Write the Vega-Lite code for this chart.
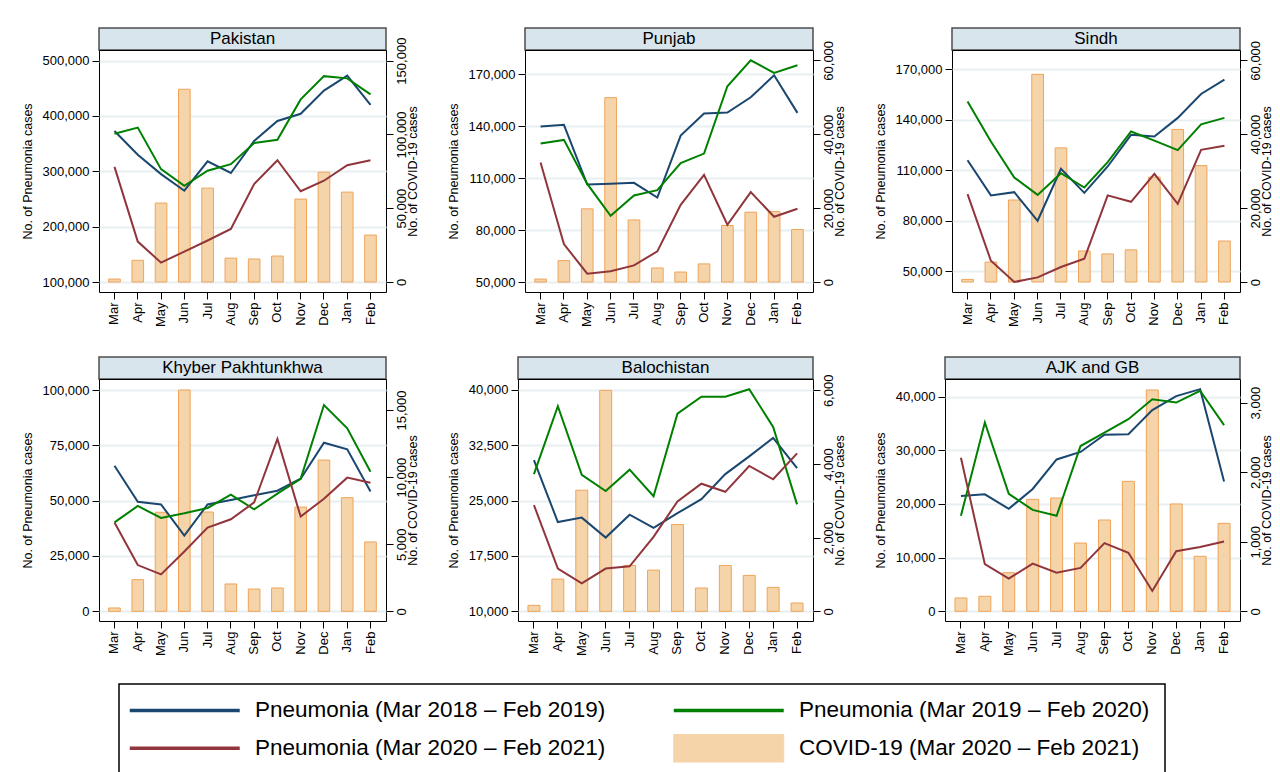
{
  "$schema": "https://vega.github.io/schema/vega-lite/v6.json",
  "padding": {"left": 20, "top": 27, "right": 0, "bottom": 0},
  "background": "white",
  "datasets": {
    "d": [
      {"region":"Pakistan","month":"Mar","p2018":373000,"p2019":368000,"p2020":308000,"covid":2000},
      {"region":"Pakistan","month":"Apr","p2018":330000,"p2019":379000,"p2020":173000,"covid":14700},
      {"region":"Pakistan","month":"May","p2018":295000,"p2019":304000,"p2020":135000,"covid":53500},
      {"region":"Pakistan","month":"Jun","p2018":265000,"p2019":274000,"p2020":155000,"covid":130600},
      {"region":"Pakistan","month":"Jul","p2018":318000,"p2019":301000,"p2020":175000,"covid":63600},
      {"region":"Pakistan","month":"Aug","p2018":297000,"p2019":313000,"p2020":196000,"covid":16200},
      {"region":"Pakistan","month":"Sep","p2018":355000,"p2019":351000,"p2020":277000,"covid":15600},
      {"region":"Pakistan","month":"Oct","p2018":391000,"p2019":357000,"p2020":320000,"covid":17600},
      {"region":"Pakistan","month":"Nov","p2018":404000,"p2019":430000,"p2020":264000,"covid":56200},
      {"region":"Pakistan","month":"Dec","p2018":446000,"p2019":472000,"p2020":283000,"covid":74400},
      {"region":"Pakistan","month":"Jan","p2018":473000,"p2019":468000,"p2020":311000,"covid":60900},
      {"region":"Pakistan","month":"Feb","p2018":420000,"p2019":439000,"p2020":320000,"covid":31800},
      {"region":"Punjab","month":"Mar","p2018":139800,"p2019":130000,"p2020":119000,"covid":800},
      {"region":"Punjab","month":"Apr","p2018":140800,"p2019":132100,"p2020":71900,"covid":5800},
      {"region":"Punjab","month":"May","p2018":106300,"p2019":106700,"p2020":54800,"covid":19800},
      {"region":"Punjab","month":"Jun","p2018":106700,"p2019":88300,"p2020":56200,"covid":49900},
      {"region":"Punjab","month":"Jul","p2018":107300,"p2019":100000,"p2020":59600,"covid":16800},
      {"region":"Punjab","month":"Aug","p2018":98800,"p2019":103100,"p2020":67700,"covid":3800},
      {"region":"Punjab","month":"Sep","p2018":134600,"p2019":118700,"p2020":94600,"covid":2700},
      {"region":"Punjab","month":"Oct","p2018":147300,"p2019":124200,"p2020":111900,"covid":4900},
      {"region":"Punjab","month":"Nov","p2018":147900,"p2019":163100,"p2020":83100,"covid":15300},
      {"region":"Punjab","month":"Dec","p2018":156700,"p2019":178100,"p2020":101900,"covid":18900},
      {"region":"Punjab","month":"Jan","p2018":169400,"p2019":170800,"p2020":87700,"covid":19100},
      {"region":"Punjab","month":"Feb","p2018":147700,"p2019":175200,"p2020":92300,"covid":14200},
      {"region":"Sindh","month":"Mar","p2018":115900,"p2019":150800,"p2020":95700,"covid":700},
      {"region":"Sindh","month":"Apr","p2018":95000,"p2019":127000,"p2020":56100,"covid":5400},
      {"region":"Sindh","month":"May","p2018":96900,"p2019":105600,"p2020":43500,"covid":22200},
      {"region":"Sindh","month":"Jun","p2018":79900,"p2019":95300,"p2020":46200,"covid":56200},
      {"region":"Sindh","month":"Jul","p2018":110800,"p2019":108200,"p2020":52400,"covid":36300},
      {"region":"Sindh","month":"Aug","p2018":96500,"p2019":99700,"p2020":57300,"covid":8400},
      {"region":"Sindh","month":"Sep","p2018":112200,"p2019":114800,"p2020":95000,"covid":7600},
      {"region":"Sindh","month":"Oct","p2018":131000,"p2019":133000,"p2020":91200,"covid":8700},
      {"region":"Sindh","month":"Nov","p2018":130000,"p2019":127600,"p2020":107800,"covid":28400},
      {"region":"Sindh","month":"Dec","p2018":141100,"p2019":121900,"p2020":90000,"covid":41300},
      {"region":"Sindh","month":"Jan","p2018":155300,"p2019":137300,"p2020":122100,"covid":31500},
      {"region":"Sindh","month":"Feb","p2018":163900,"p2019":141100,"p2020":124500,"covid":11100},
      {"region":"Khyber Pakhtunkhwa","month":"Mar","p2018":65800,"p2019":40200,"p2020":40100,"covid":250},
      {"region":"Khyber Pakhtunkhwa","month":"Apr","p2018":49500,"p2019":47600,"p2020":20900,"covid":2360},
      {"region":"Khyber Pakhtunkhwa","month":"May","p2018":48300,"p2019":42200,"p2020":16700,"covid":7380},
      {"region":"Khyber Pakhtunkhwa","month":"Jun","p2018":34200,"p2019":44300,"p2020":27000,"covid":16490},
      {"region":"Khyber Pakhtunkhwa","month":"Jul","p2018":48300,"p2019":46700,"p2020":37800,"covid":7400},
      {"region":"Khyber Pakhtunkhwa","month":"Aug","p2018":50300,"p2019":52700,"p2020":41600,"covid":2040},
      {"region":"Khyber Pakhtunkhwa","month":"Sep","p2018":52400,"p2019":46100,"p2020":49200,"covid":1660},
      {"region":"Khyber Pakhtunkhwa","month":"Oct","p2018":54500,"p2019":53200,"p2020":77900,"covid":1740},
      {"region":"Khyber Pakhtunkhwa","month":"Nov","p2018":59900,"p2019":59900,"p2020":42800,"covid":7770},
      {"region":"Khyber Pakhtunkhwa","month":"Dec","p2018":76200,"p2019":93200,"p2020":50900,"covid":11270},
      {"region":"Khyber Pakhtunkhwa","month":"Jan","p2018":73200,"p2019":82700,"p2020":60400,"covid":8470},
      {"region":"Khyber Pakhtunkhwa","month":"Feb","p2018":54100,"p2019":63100,"p2020":58100,"covid":5170},
      {"region":"Balochistan","month":"Mar","p2018":30500,"p2019":28600,"p2020":24400,"covid":163},
      {"region":"Balochistan","month":"Apr","p2018":22100,"p2019":37800,"p2020":15800,"covid":876},
      {"region":"Balochistan","month":"May","p2018":22700,"p2019":28500,"p2020":13800,"covid":3289},
      {"region":"Balochistan","month":"Jun","p2018":20000,"p2019":26300,"p2020":15800,"covid":6000},
      {"region":"Balochistan","month":"Jul","p2018":23100,"p2019":29200,"p2020":16100,"covid":1247},
      {"region":"Balochistan","month":"Aug","p2018":21300,"p2019":25600,"p2020":20100,"covid":1120},
      {"region":"Balochistan","month":"Sep","p2018":23300,"p2019":36800,"p2020":24900,"covid":2358},
      {"region":"Balochistan","month":"Oct","p2018":25200,"p2019":39100,"p2020":27300,"covid":633},
      {"region":"Balochistan","month":"Nov","p2018":28600,"p2019":39100,"p2020":26200,"covid":1247},
      {"region":"Balochistan","month":"Dec","p2018":31000,"p2019":40100,"p2020":29700,"covid":976},
      {"region":"Balochistan","month":"Jan","p2018":33500,"p2019":35000,"p2020":27900,"covid":651},
      {"region":"Balochistan","month":"Feb","p2018":29400,"p2019":24500,"p2020":31400,"covid":226},
      {"region":"AJK and GB","month":"Mar","p2018":21500,"p2019":17800,"p2020":28600,"covid":192},
      {"region":"AJK and GB","month":"Apr","p2018":21800,"p2019":35200,"p2020":8800,"covid":216},
      {"region":"AJK and GB","month":"May","p2018":19100,"p2019":21900,"p2020":6100,"covid":556},
      {"region":"AJK and GB","month":"Jun","p2018":22800,"p2019":18900,"p2020":8900,"covid":1610},
      {"region":"AJK and GB","month":"Jul","p2018":28300,"p2019":17800,"p2020":7200,"covid":1629},
      {"region":"AJK and GB","month":"Aug","p2018":29700,"p2019":30800,"p2020":8100,"covid":982},
      {"region":"AJK and GB","month":"Sep","p2018":32900,"p2019":33300,"p2020":12700,"covid":1313},
      {"region":"AJK and GB","month":"Oct","p2018":33000,"p2019":35800,"p2020":10900,"covid":1869},
      {"region":"AJK and GB","month":"Nov","p2018":37500,"p2019":39500,"p2020":3800,"covid":3182},
      {"region":"AJK and GB","month":"Dec","p2018":40100,"p2019":38900,"p2020":11200,"covid":1543},
      {"region":"AJK and GB","month":"Jan","p2018":41400,"p2019":41100,"p2020":12000,"covid":791},
      {"region":"AJK and GB","month":"Feb","p2018":24200,"p2019":34700,"p2020":13000,"covid":1265}
    ]
  },
  "vconcat": [
    {
      "hconcat": [
        {
          "vconcat": [
            {"width": 287, "height": 22, "data": {"name": "d"}, "transform": [{"filter": "datum.region === 'Pakistan' && datum.month === 'Mar'"}], "mark": {"type": "text", "font": "Liberation Sans", "fontSize": 17, "color": "black"}, "encoding": {"text": {"field": "region"}}, "view": {"fill": "#d9e5ec", "stroke": "#4d4d4d", "strokeWidth": 1.5}},
            {"width": 287, "height": 242, "data": {"name": "d"}, "transform": [{"filter": "datum.region === 'Pakistan'"}], "view": {"stroke": "black", "strokeWidth": 1, "fill": "white"},
              "encoding": {"x": {"field": "month", "type": "ordinal", "sort": ["Mar","Apr","May","Jun","Jul","Aug","Sep","Oct","Nov","Dec","Jan","Feb"], "scale": {"paddingInner": 0.5, "paddingOuter": 0.416}, "axis": {"title": null}}},
              "layer": [
                {"mark": {"type": "bar", "stroke": "#eea45a", "strokeWidth": 1},
                  "encoding": {"y": {"field": "covid", "type": "quantitative", "scale": {"domain": [-6770, 157200], "nice": false, "zero": false}, "axis": {"orient": "right", "values": [0, 50000, 100000, 150000], "format": ",d", "grid": false, "title": "No. of COVID-19 cases"}}, "y2": {"datum": 0},
                    "color": {"datum": "covid", "type": "nominal", "scale": {"domain": ["p2018","p2019","p2020","covid"], "range": ["#1a476f","#008000","#90353b","#f6d4a9"]}, "legend": {"orient": "none", "legendX": 20, "legendY": 656, "columns": 2, "direction": "horizontal", "title": null, "symbolType": "stroke", "symbolSize": 756, "symbolOffset": 39.5, "labelOffset": 59, "labelFont": "Liberation Sans", "labelFontSize": 22.5, "labelColor": "black", "labelLimit": 600, "columnPadding": 60, "rowPadding": 10, "padding": 15, "strokeColor": "black", "labelExpr": "datum.value === 'p2018' ? 'Pneumonia (Mar 2018 – Feb 2019)' : datum.value === 'p2019' ? 'Pneumonia (Mar 2019 – Feb 2020)' : datum.value === 'p2020' ? 'Pneumonia (Mar 2020 – Feb 2021)' : 'COVID-19 (Mar 2020 – Feb 2021)'", "encode": {"legend": {"update": {"strokeWidth": {"value": 1.5}}}, "symbols": {"update": {"shape": {"signal": "datum.value === 'covid' ? 'M-4,-1H4V1H-4Z' : 'M-4,0H4'"}, "fill": {"signal": "datum.value === 'covid' ? '#f6d4a9' : 'transparent'"}, "stroke": {"signal": "datum.value === 'p2018' ? '#1a476f' : datum.value === 'p2019' ? '#008000' : datum.value === 'p2020' ? '#90353b' : '#eea45a'"}, "strokeWidth": {"signal": "datum.value === 'covid' ? 1 : 3.5"}, "opacity": {"value": 1}}}}}}}},
                {"transform": [{"fold": ["p2018","p2019","p2020"], "as": ["series","val"]}], "mark": {"type": "line", "strokeWidth": 2},
                  "encoding": {"y": {"field": "val", "type": "quantitative", "scale": {"domain": [81950, 519250], "nice": false, "zero": false}, "axis": {"orient": "left", "values": [100000, 200000, 300000, 400000, 500000], "format": ",d", "grid": true, "title": "No. of Pneumonia cases"}},
                    "color": {"field": "series", "type": "nominal", "scale": {"domain": ["p2018","p2019","p2020","covid"], "range": ["#1a476f","#008000","#90353b","#f6d4a9"]}, "legend": {"orient": "none", "legendX": 20, "legendY": 656, "columns": 2, "direction": "horizontal", "title": null, "symbolType": "stroke", "symbolSize": 756, "symbolOffset": 39.5, "labelOffset": 59, "labelFont": "Liberation Sans", "labelFontSize": 22.5, "labelColor": "black", "labelLimit": 600, "columnPadding": 60, "rowPadding": 10, "padding": 15, "strokeColor": "black", "labelExpr": "datum.value === 'p2018' ? 'Pneumonia (Mar 2018 – Feb 2019)' : datum.value === 'p2019' ? 'Pneumonia (Mar 2019 – Feb 2020)' : datum.value === 'p2020' ? 'Pneumonia (Mar 2020 – Feb 2021)' : 'COVID-19 (Mar 2020 – Feb 2021)'", "encode": {"legend": {"update": {"strokeWidth": {"value": 1.5}}}, "symbols": {"update": {"shape": {"signal": "datum.value === 'covid' ? 'M-4,-1H4V1H-4Z' : 'M-4,0H4'"}, "fill": {"signal": "datum.value === 'covid' ? '#f6d4a9' : 'transparent'"}, "stroke": {"signal": "datum.value === 'p2018' ? '#1a476f' : datum.value === 'p2019' ? '#008000' : datum.value === 'p2020' ? '#90353b' : '#eea45a'"}, "strokeWidth": {"signal": "datum.value === 'covid' ? 1 : 3.5"}, "opacity": {"value": 1}}}}}}}}
              ],
              "resolve": {"scale": {"y": "independent"}}
            }
          ],
          "spacing": 0, "bounds": "flush"
        },
        {
          "vconcat": [
            {"width": 288, "height": 22, "data": {"name": "d"}, "transform": [{"filter": "datum.region === 'Punjab' && datum.month === 'Mar'"}], "mark": {"type": "text", "font": "Liberation Sans", "fontSize": 17, "color": "black"}, "encoding": {"text": {"field": "region"}}, "view": {"fill": "#d9e5ec", "stroke": "#4d4d4d", "strokeWidth": 1.5}},
            {"width": 288, "height": 242, "data": {"name": "d"}, "transform": [{"filter": "datum.region === 'Punjab'"}], "view": {"stroke": "black", "strokeWidth": 1, "fill": "white"},
              "encoding": {"x": {"field": "month", "type": "ordinal", "sort": ["Mar","Apr","May","Jun","Jul","Aug","Sep","Oct","Nov","Dec","Jan","Feb"], "scale": {"paddingInner": 0.5, "paddingOuter": 0.416}, "axis": {"title": null}}},
              "layer": [
                {"mark": {"type": "bar", "stroke": "#eea45a", "strokeWidth": 1},
                  "encoding": {"y": {"field": "covid", "type": "quantitative", "scale": {"domain": [-2700, 62790], "nice": false, "zero": false}, "axis": {"orient": "right", "values": [0, 20000, 40000, 60000], "format": ",d", "grid": false, "title": "No. of COVID-19 cases"}}, "y2": {"datum": 0},
                    "color": {"datum": "covid", "type": "nominal", "scale": {"domain": ["p2018","p2019","p2020","covid"], "range": ["#1a476f","#008000","#90353b","#f6d4a9"]}, "legend": {"orient": "none", "legendX": 20, "legendY": 656, "columns": 2, "direction": "horizontal", "title": null, "symbolType": "stroke", "symbolSize": 756, "symbolOffset": 39.5, "labelOffset": 59, "labelFont": "Liberation Sans", "labelFontSize": 22.5, "labelColor": "black", "labelLimit": 600, "columnPadding": 60, "rowPadding": 10, "padding": 15, "strokeColor": "black", "labelExpr": "datum.value === 'p2018' ? 'Pneumonia (Mar 2018 – Feb 2019)' : datum.value === 'p2019' ? 'Pneumonia (Mar 2019 – Feb 2020)' : datum.value === 'p2020' ? 'Pneumonia (Mar 2020 – Feb 2021)' : 'COVID-19 (Mar 2020 – Feb 2021)'", "encode": {"legend": {"update": {"strokeWidth": {"value": 1.5}}}, "symbols": {"update": {"shape": {"signal": "datum.value === 'covid' ? 'M-4,-1H4V1H-4Z' : 'M-4,0H4'"}, "fill": {"signal": "datum.value === 'covid' ? '#f6d4a9' : 'transparent'"}, "stroke": {"signal": "datum.value === 'p2018' ? '#1a476f' : datum.value === 'p2019' ? '#008000' : datum.value === 'p2020' ? '#90353b' : '#eea45a'"}, "strokeWidth": {"signal": "datum.value === 'covid' ? 1 : 3.5"}, "opacity": {"value": 1}}}}}}}},
                {"transform": [{"fold": ["p2018","p2019","p2020"], "as": ["series","val"]}], "mark": {"type": "line", "strokeWidth": 2},
                  "encoding": {"y": {"field": "val", "type": "quantitative", "scale": {"domain": [44230, 184040], "nice": false, "zero": false}, "axis": {"orient": "left", "values": [50000, 80000, 110000, 140000, 170000], "format": ",d", "grid": true, "title": "No. of Pneumonia cases"}},
                    "color": {"field": "series", "type": "nominal", "scale": {"domain": ["p2018","p2019","p2020","covid"], "range": ["#1a476f","#008000","#90353b","#f6d4a9"]}, "legend": {"orient": "none", "legendX": 20, "legendY": 656, "columns": 2, "direction": "horizontal", "title": null, "symbolType": "stroke", "symbolSize": 756, "symbolOffset": 39.5, "labelOffset": 59, "labelFont": "Liberation Sans", "labelFontSize": 22.5, "labelColor": "black", "labelLimit": 600, "columnPadding": 60, "rowPadding": 10, "padding": 15, "strokeColor": "black", "labelExpr": "datum.value === 'p2018' ? 'Pneumonia (Mar 2018 – Feb 2019)' : datum.value === 'p2019' ? 'Pneumonia (Mar 2019 – Feb 2020)' : datum.value === 'p2020' ? 'Pneumonia (Mar 2020 – Feb 2021)' : 'COVID-19 (Mar 2020 – Feb 2021)'", "encode": {"legend": {"update": {"strokeWidth": {"value": 1.5}}}, "symbols": {"update": {"shape": {"signal": "datum.value === 'covid' ? 'M-4,-1H4V1H-4Z' : 'M-4,0H4'"}, "fill": {"signal": "datum.value === 'covid' ? '#f6d4a9' : 'transparent'"}, "stroke": {"signal": "datum.value === 'p2018' ? '#1a476f' : datum.value === 'p2019' ? '#008000' : datum.value === 'p2020' ? '#90353b' : '#eea45a'"}, "strokeWidth": {"signal": "datum.value === 'covid' ? 1 : 3.5"}, "opacity": {"value": 1}}}}}}}}
              ],
              "resolve": {"scale": {"y": "independent"}}
            }
          ],
          "spacing": 0, "bounds": "flush"
        },
        {
          "vconcat": [
            {"width": 288, "height": 22, "data": {"name": "d"}, "transform": [{"filter": "datum.region === 'Sindh' && datum.month === 'Mar'"}], "mark": {"type": "text", "font": "Liberation Sans", "fontSize": 17, "color": "black"}, "encoding": {"text": {"field": "region"}}, "view": {"fill": "#d9e5ec", "stroke": "#4d4d4d", "strokeWidth": 1.5}},
            {"width": 288, "height": 242, "data": {"name": "d"}, "transform": [{"filter": "datum.region === 'Sindh'"}], "view": {"stroke": "black", "strokeWidth": 1, "fill": "white"},
              "encoding": {"x": {"field": "month", "type": "ordinal", "sort": ["Mar","Apr","May","Jun","Jul","Aug","Sep","Oct","Nov","Dec","Jan","Feb"], "scale": {"paddingInner": 0.5, "paddingOuter": 0.416}, "axis": {"title": null}}},
              "layer": [
                {"mark": {"type": "bar", "stroke": "#eea45a", "strokeWidth": 1},
                  "encoding": {"y": {"field": "covid", "type": "quantitative", "scale": {"domain": [-2700, 62790], "nice": false, "zero": false}, "axis": {"orient": "right", "values": [0, 20000, 40000, 60000], "format": ",d", "grid": false, "title": "No. of COVID-19 cases"}}, "y2": {"datum": 0},
                    "color": {"datum": "covid", "type": "nominal", "scale": {"domain": ["p2018","p2019","p2020","covid"], "range": ["#1a476f","#008000","#90353b","#f6d4a9"]}, "legend": {"orient": "none", "legendX": 20, "legendY": 656, "columns": 2, "direction": "horizontal", "title": null, "symbolType": "stroke", "symbolSize": 756, "symbolOffset": 39.5, "labelOffset": 59, "labelFont": "Liberation Sans", "labelFontSize": 22.5, "labelColor": "black", "labelLimit": 600, "columnPadding": 60, "rowPadding": 10, "padding": 15, "strokeColor": "black", "labelExpr": "datum.value === 'p2018' ? 'Pneumonia (Mar 2018 – Feb 2019)' : datum.value === 'p2019' ? 'Pneumonia (Mar 2019 – Feb 2020)' : datum.value === 'p2020' ? 'Pneumonia (Mar 2020 – Feb 2021)' : 'COVID-19 (Mar 2020 – Feb 2021)'", "encode": {"legend": {"update": {"strokeWidth": {"value": 1.5}}}, "symbols": {"update": {"shape": {"signal": "datum.value === 'covid' ? 'M-4,-1H4V1H-4Z' : 'M-4,0H4'"}, "fill": {"signal": "datum.value === 'covid' ? '#f6d4a9' : 'transparent'"}, "stroke": {"signal": "datum.value === 'p2018' ? '#1a476f' : datum.value === 'p2019' ? '#008000' : datum.value === 'p2020' ? '#90353b' : '#eea45a'"}, "strokeWidth": {"signal": "datum.value === 'covid' ? 1 : 3.5"}, "opacity": {"value": 1}}}}}}}},
                {"transform": [{"fold": ["p2018","p2019","p2020"], "as": ["series","val"]}], "mark": {"type": "line", "strokeWidth": 2},
                  "encoding": {"y": {"field": "val", "type": "quantitative", "scale": {"domain": [37520, 181490], "nice": false, "zero": false}, "axis": {"orient": "left", "values": [50000, 80000, 110000, 140000, 170000], "format": ",d", "grid": true, "title": "No. of Pneumonia cases"}},
                    "color": {"field": "series", "type": "nominal", "scale": {"domain": ["p2018","p2019","p2020","covid"], "range": ["#1a476f","#008000","#90353b","#f6d4a9"]}, "legend": {"orient": "none", "legendX": 20, "legendY": 656, "columns": 2, "direction": "horizontal", "title": null, "symbolType": "stroke", "symbolSize": 756, "symbolOffset": 39.5, "labelOffset": 59, "labelFont": "Liberation Sans", "labelFontSize": 22.5, "labelColor": "black", "labelLimit": 600, "columnPadding": 60, "rowPadding": 10, "padding": 15, "strokeColor": "black", "labelExpr": "datum.value === 'p2018' ? 'Pneumonia (Mar 2018 – Feb 2019)' : datum.value === 'p2019' ? 'Pneumonia (Mar 2019 – Feb 2020)' : datum.value === 'p2020' ? 'Pneumonia (Mar 2020 – Feb 2021)' : 'COVID-19 (Mar 2020 – Feb 2021)'", "encode": {"legend": {"update": {"strokeWidth": {"value": 1.5}}}, "symbols": {"update": {"shape": {"signal": "datum.value === 'covid' ? 'M-4,-1H4V1H-4Z' : 'M-4,0H4'"}, "fill": {"signal": "datum.value === 'covid' ? '#f6d4a9' : 'transparent'"}, "stroke": {"signal": "datum.value === 'p2018' ? '#1a476f' : datum.value === 'p2019' ? '#008000' : datum.value === 'p2020' ? '#90353b' : '#eea45a'"}, "strokeWidth": {"signal": "datum.value === 'covid' ? 1 : 3.5"}, "opacity": {"value": 1}}}}}}}}
              ],
              "resolve": {"scale": {"y": "independent"}}
            }
          ],
          "spacing": 0, "bounds": "flush"
        }
      ],
      "spacing": 27
    },
    {
      "hconcat": [
        {
          "vconcat": [
            {"width": 287, "height": 22, "data": {"name": "d"}, "transform": [{"filter": "datum.region === 'Khyber Pakhtunkhwa' && datum.month === 'Mar'"}], "mark": {"type": "text", "font": "Liberation Sans", "fontSize": 17, "color": "black"}, "encoding": {"text": {"field": "region"}}, "view": {"fill": "#d9e5ec", "stroke": "#4d4d4d", "strokeWidth": 1.5}},
            {"width": 287, "height": 242, "data": {"name": "d"}, "transform": [{"filter": "datum.region === 'Khyber Pakhtunkhwa'"}], "view": {"stroke": "black", "strokeWidth": 1, "fill": "white"},
              "encoding": {"x": {"field": "month", "type": "ordinal", "sort": ["Mar","Apr","May","Jun","Jul","Aug","Sep","Oct","Nov","Dec","Jan","Feb"], "scale": {"paddingInner": 0.5, "paddingOuter": 0.416}, "axis": {"title": null}}},
              "layer": [
                {"mark": {"type": "bar", "stroke": "#eea45a", "strokeWidth": 1},
                  "encoding": {"y": {"field": "covid", "type": "quantitative", "scale": {"domain": [-720, 17310], "nice": false, "zero": false}, "axis": {"orient": "right", "values": [0, 5000, 10000, 15000], "format": ",d", "grid": false, "title": "No. of COVID-19 cases"}}, "y2": {"datum": 0},
                    "color": {"datum": "covid", "type": "nominal", "scale": {"domain": ["p2018","p2019","p2020","covid"], "range": ["#1a476f","#008000","#90353b","#f6d4a9"]}, "legend": {"orient": "none", "legendX": 20, "legendY": 656, "columns": 2, "direction": "horizontal", "title": null, "symbolType": "stroke", "symbolSize": 756, "symbolOffset": 39.5, "labelOffset": 59, "labelFont": "Liberation Sans", "labelFontSize": 22.5, "labelColor": "black", "labelLimit": 600, "columnPadding": 60, "rowPadding": 10, "padding": 15, "strokeColor": "black", "labelExpr": "datum.value === 'p2018' ? 'Pneumonia (Mar 2018 – Feb 2019)' : datum.value === 'p2019' ? 'Pneumonia (Mar 2019 – Feb 2020)' : datum.value === 'p2020' ? 'Pneumonia (Mar 2020 – Feb 2021)' : 'COVID-19 (Mar 2020 – Feb 2021)'", "encode": {"legend": {"update": {"strokeWidth": {"value": 1.5}}}, "symbols": {"update": {"shape": {"signal": "datum.value === 'covid' ? 'M-4,-1H4V1H-4Z' : 'M-4,0H4'"}, "fill": {"signal": "datum.value === 'covid' ? '#f6d4a9' : 'transparent'"}, "stroke": {"signal": "datum.value === 'p2018' ? '#1a476f' : datum.value === 'p2019' ? '#008000' : datum.value === 'p2020' ? '#90353b' : '#eea45a'"}, "strokeWidth": {"signal": "datum.value === 'covid' ? 1 : 3.5"}, "opacity": {"value": 1}}}}}}}},
                {"transform": [{"fold": ["p2018","p2019","p2020"], "as": ["series","val"]}], "mark": {"type": "line", "strokeWidth": 2},
                  "encoding": {"y": {"field": "val", "type": "quantitative", "scale": {"domain": [-4370, 104970], "nice": false, "zero": false}, "axis": {"orient": "left", "values": [0, 25000, 50000, 75000, 100000], "format": ",d", "grid": true, "title": "No. of Pneumonia cases"}},
                    "color": {"field": "series", "type": "nominal", "scale": {"domain": ["p2018","p2019","p2020","covid"], "range": ["#1a476f","#008000","#90353b","#f6d4a9"]}, "legend": {"orient": "none", "legendX": 20, "legendY": 656, "columns": 2, "direction": "horizontal", "title": null, "symbolType": "stroke", "symbolSize": 756, "symbolOffset": 39.5, "labelOffset": 59, "labelFont": "Liberation Sans", "labelFontSize": 22.5, "labelColor": "black", "labelLimit": 600, "columnPadding": 60, "rowPadding": 10, "padding": 15, "strokeColor": "black", "labelExpr": "datum.value === 'p2018' ? 'Pneumonia (Mar 2018 – Feb 2019)' : datum.value === 'p2019' ? 'Pneumonia (Mar 2019 – Feb 2020)' : datum.value === 'p2020' ? 'Pneumonia (Mar 2020 – Feb 2021)' : 'COVID-19 (Mar 2020 – Feb 2021)'", "encode": {"legend": {"update": {"strokeWidth": {"value": 1.5}}}, "symbols": {"update": {"shape": {"signal": "datum.value === 'covid' ? 'M-4,-1H4V1H-4Z' : 'M-4,0H4'"}, "fill": {"signal": "datum.value === 'covid' ? '#f6d4a9' : 'transparent'"}, "stroke": {"signal": "datum.value === 'p2018' ? '#1a476f' : datum.value === 'p2019' ? '#008000' : datum.value === 'p2020' ? '#90353b' : '#eea45a'"}, "strokeWidth": {"signal": "datum.value === 'covid' ? 1 : 3.5"}, "opacity": {"value": 1}}}}}}}}
              ],
              "resolve": {"scale": {"y": "independent"}}
            }
          ],
          "spacing": 0, "bounds": "flush"
        },
        {
          "vconcat": [
            {"width": 295, "height": 22, "data": {"name": "d"}, "transform": [{"filter": "datum.region === 'Balochistan' && datum.month === 'Mar'"}], "mark": {"type": "text", "font": "Liberation Sans", "fontSize": 17, "color": "black"}, "encoding": {"text": {"field": "region"}}, "view": {"fill": "#d9e5ec", "stroke": "#4d4d4d", "strokeWidth": 1.5}},
            {"width": 295, "height": 242, "data": {"name": "d"}, "transform": [{"filter": "datum.region === 'Balochistan'"}], "view": {"stroke": "black", "strokeWidth": 1, "fill": "white"},
              "encoding": {"x": {"field": "month", "type": "ordinal", "sort": ["Mar","Apr","May","Jun","Jul","Aug","Sep","Oct","Nov","Dec","Jan","Feb"], "scale": {"paddingInner": 0.5, "paddingOuter": 0.416}, "axis": {"title": null}}},
              "layer": [
                {"mark": {"type": "bar", "stroke": "#eea45a", "strokeWidth": 1},
                  "encoding": {"y": {"field": "covid", "type": "quantitative", "scale": {"domain": [-262, 6308], "nice": false, "zero": false}, "axis": {"orient": "right", "values": [0, 2000, 4000, 6000], "format": ",d", "grid": false, "title": "No. of COVID-19 cases"}}, "y2": {"datum": 0},
                    "color": {"datum": "covid", "type": "nominal", "scale": {"domain": ["p2018","p2019","p2020","covid"], "range": ["#1a476f","#008000","#90353b","#f6d4a9"]}, "legend": {"orient": "none", "legendX": 20, "legendY": 656, "columns": 2, "direction": "horizontal", "title": null, "symbolType": "stroke", "symbolSize": 756, "symbolOffset": 39.5, "labelOffset": 59, "labelFont": "Liberation Sans", "labelFontSize": 22.5, "labelColor": "black", "labelLimit": 600, "columnPadding": 60, "rowPadding": 10, "padding": 15, "strokeColor": "black", "labelExpr": "datum.value === 'p2018' ? 'Pneumonia (Mar 2018 – Feb 2019)' : datum.value === 'p2019' ? 'Pneumonia (Mar 2019 – Feb 2020)' : datum.value === 'p2020' ? 'Pneumonia (Mar 2020 – Feb 2021)' : 'COVID-19 (Mar 2020 – Feb 2021)'", "encode": {"legend": {"update": {"strokeWidth": {"value": 1.5}}}, "symbols": {"update": {"shape": {"signal": "datum.value === 'covid' ? 'M-4,-1H4V1H-4Z' : 'M-4,0H4'"}, "fill": {"signal": "datum.value === 'covid' ? '#f6d4a9' : 'transparent'"}, "stroke": {"signal": "datum.value === 'p2018' ? '#1a476f' : datum.value === 'p2019' ? '#008000' : datum.value === 'p2020' ? '#90353b' : '#eea45a'"}, "strokeWidth": {"signal": "datum.value === 'covid' ? 1 : 3.5"}, "opacity": {"value": 1}}}}}}}},
                {"transform": [{"fold": ["p2018","p2019","p2020"], "as": ["series","val"]}], "mark": {"type": "line", "strokeWidth": 2},
                  "encoding": {"y": {"field": "val", "type": "quantitative", "scale": {"domain": [8690, 41490], "nice": false, "zero": false}, "axis": {"orient": "left", "values": [10000, 17500, 25000, 32500, 40000], "format": ",d", "grid": true, "title": "No. of Pneumonia cases"}},
                    "color": {"field": "series", "type": "nominal", "scale": {"domain": ["p2018","p2019","p2020","covid"], "range": ["#1a476f","#008000","#90353b","#f6d4a9"]}, "legend": {"orient": "none", "legendX": 20, "legendY": 656, "columns": 2, "direction": "horizontal", "title": null, "symbolType": "stroke", "symbolSize": 756, "symbolOffset": 39.5, "labelOffset": 59, "labelFont": "Liberation Sans", "labelFontSize": 22.5, "labelColor": "black", "labelLimit": 600, "columnPadding": 60, "rowPadding": 10, "padding": 15, "strokeColor": "black", "labelExpr": "datum.value === 'p2018' ? 'Pneumonia (Mar 2018 – Feb 2019)' : datum.value === 'p2019' ? 'Pneumonia (Mar 2019 – Feb 2020)' : datum.value === 'p2020' ? 'Pneumonia (Mar 2020 – Feb 2021)' : 'COVID-19 (Mar 2020 – Feb 2021)'", "encode": {"legend": {"update": {"strokeWidth": {"value": 1.5}}}, "symbols": {"update": {"shape": {"signal": "datum.value === 'covid' ? 'M-4,-1H4V1H-4Z' : 'M-4,0H4'"}, "fill": {"signal": "datum.value === 'covid' ? '#f6d4a9' : 'transparent'"}, "stroke": {"signal": "datum.value === 'p2018' ? '#1a476f' : datum.value === 'p2019' ? '#008000' : datum.value === 'p2020' ? '#90353b' : '#eea45a'"}, "strokeWidth": {"signal": "datum.value === 'covid' ? 1 : 3.5"}, "opacity": {"value": 1}}}}}}}}
              ],
              "resolve": {"scale": {"y": "independent"}}
            }
          ],
          "spacing": 0, "bounds": "flush"
        },
        {
          "vconcat": [
            {"width": 295, "height": 22, "data": {"name": "d"}, "transform": [{"filter": "datum.region === 'AJK and GB' && datum.month === 'Mar'"}], "mark": {"type": "text", "font": "Liberation Sans", "fontSize": 17, "color": "black"}, "encoding": {"text": {"field": "region"}}, "view": {"fill": "#d9e5ec", "stroke": "#4d4d4d", "strokeWidth": 1.5}},
            {"width": 295, "height": 242, "data": {"name": "d"}, "transform": [{"filter": "datum.region === 'AJK and GB'"}], "view": {"stroke": "black", "strokeWidth": 1, "fill": "white"},
              "encoding": {"x": {"field": "month", "type": "ordinal", "sort": ["Mar","Apr","May","Jun","Jul","Aug","Sep","Oct","Nov","Dec","Jan","Feb"], "scale": {"paddingInner": 0.5, "paddingOuter": 0.416}, "axis": {"title": null}}},
              "layer": [
                {"mark": {"type": "bar", "stroke": "#eea45a", "strokeWidth": 1},
                  "encoding": {"y": {"field": "covid", "type": "quantitative", "scale": {"domain": [-139, 3340], "nice": false, "zero": false}, "axis": {"orient": "right", "values": [0, 1000, 2000, 3000], "format": ",d", "grid": false, "title": "No. of COVID-19 cases"}}, "y2": {"datum": 0},
                    "color": {"datum": "covid", "type": "nominal", "scale": {"domain": ["p2018","p2019","p2020","covid"], "range": ["#1a476f","#008000","#90353b","#f6d4a9"]}, "legend": {"orient": "none", "legendX": 20, "legendY": 656, "columns": 2, "direction": "horizontal", "title": null, "symbolType": "stroke", "symbolSize": 756, "symbolOffset": 39.5, "labelOffset": 59, "labelFont": "Liberation Sans", "labelFontSize": 22.5, "labelColor": "black", "labelLimit": 600, "columnPadding": 60, "rowPadding": 10, "padding": 15, "strokeColor": "black", "labelExpr": "datum.value === 'p2018' ? 'Pneumonia (Mar 2018 – Feb 2019)' : datum.value === 'p2019' ? 'Pneumonia (Mar 2019 – Feb 2020)' : datum.value === 'p2020' ? 'Pneumonia (Mar 2020 – Feb 2021)' : 'COVID-19 (Mar 2020 – Feb 2021)'", "encode": {"legend": {"update": {"strokeWidth": {"value": 1.5}}}, "symbols": {"update": {"shape": {"signal": "datum.value === 'covid' ? 'M-4,-1H4V1H-4Z' : 'M-4,0H4'"}, "fill": {"signal": "datum.value === 'covid' ? '#f6d4a9' : 'transparent'"}, "stroke": {"signal": "datum.value === 'p2018' ? '#1a476f' : datum.value === 'p2019' ? '#008000' : datum.value === 'p2020' ? '#90353b' : '#eea45a'"}, "strokeWidth": {"signal": "datum.value === 'covid' ? 1 : 3.5"}, "opacity": {"value": 1}}}}}}}},
                {"transform": [{"fold": ["p2018","p2019","p2020"], "as": ["series","val"]}], "mark": {"type": "line", "strokeWidth": 2},
                  "encoding": {"y": {"field": "val", "type": "quantitative", "scale": {"domain": [-1800, 43290], "nice": false, "zero": false}, "axis": {"orient": "left", "values": [0, 10000, 20000, 30000, 40000], "format": ",d", "grid": true, "title": "No. of Pneumonia cases"}},
                    "color": {"field": "series", "type": "nominal", "scale": {"domain": ["p2018","p2019","p2020","covid"], "range": ["#1a476f","#008000","#90353b","#f6d4a9"]}, "legend": {"orient": "none", "legendX": 20, "legendY": 656, "columns": 2, "direction": "horizontal", "title": null, "symbolType": "stroke", "symbolSize": 756, "symbolOffset": 39.5, "labelOffset": 59, "labelFont": "Liberation Sans", "labelFontSize": 22.5, "labelColor": "black", "labelLimit": 600, "columnPadding": 60, "rowPadding": 10, "padding": 15, "strokeColor": "black", "labelExpr": "datum.value === 'p2018' ? 'Pneumonia (Mar 2018 – Feb 2019)' : datum.value === 'p2019' ? 'Pneumonia (Mar 2019 – Feb 2020)' : datum.value === 'p2020' ? 'Pneumonia (Mar 2020 – Feb 2021)' : 'COVID-19 (Mar 2020 – Feb 2021)'", "encode": {"legend": {"update": {"strokeWidth": {"value": 1.5}}}, "symbols": {"update": {"shape": {"signal": "datum.value === 'covid' ? 'M-4,-1H4V1H-4Z' : 'M-4,0H4'"}, "fill": {"signal": "datum.value === 'covid' ? '#f6d4a9' : 'transparent'"}, "stroke": {"signal": "datum.value === 'p2018' ? '#1a476f' : datum.value === 'p2019' ? '#008000' : datum.value === 'p2020' ? '#90353b' : '#eea45a'"}, "strokeWidth": {"signal": "datum.value === 'covid' ? 1 : 3.5"}, "opacity": {"value": 1}}}}}}}}
              ],
              "resolve": {"scale": {"y": "independent"}}
            }
          ],
          "spacing": 0, "bounds": "flush"
        }
      ],
      "spacing": 27
    }
  ],
  "spacing": 28,
  "config": {
    "font": "Liberation Sans",
    "axis": {"labelFont": "Liberation Sans", "titleFont": "Liberation Sans", "labelFontSize": 13, "titleFontSize": 12.5, "titleFontWeight": "normal", "labelColor": "black", "titleColor": "black", "tickColor": "black", "tickSize": 7, "domain": false, "labelPadding": 3},
    "axisLeft": {"titlePadding": 8, "gridColor": "#e8eff2", "gridWidth": 2},
    "axisRight": {"labelAngle": 270, "labelAlign": "center", "labelBaseline": "top", "titleAngle": 270, "titleBaseline": "top", "titlePadding": -2, "labelPadding": 2},
    "axisBottom": {"labelAngle": 270, "labelAlign": "right", "labelBaseline": "middle"},
    "view": {"stroke": "black"}
  }
}
